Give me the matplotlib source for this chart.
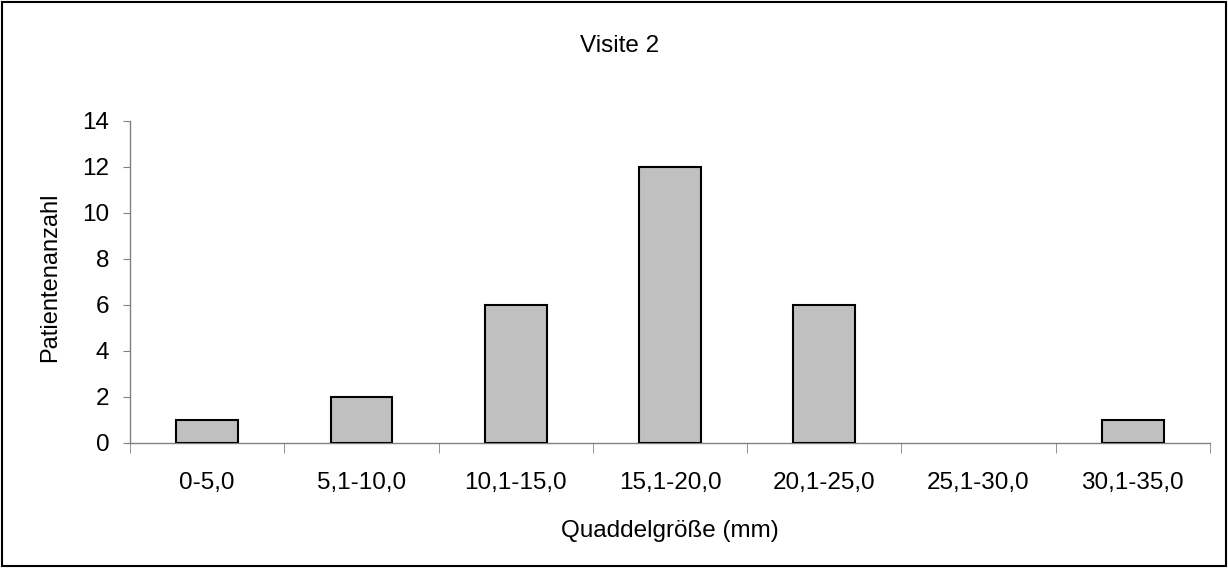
import matplotlib
matplotlib.use("Agg")
from matplotlib import pyplot as plt
from matplotlib.patches import Rectangle
import numpy as np

plt.rcParams['font.family'] = ['Liberation Sans', 'DejaVu Sans']

# data
categories = ["0-5,0", "5,1-10,0", "10,1-15,0", "15,1-20,0", "20,1-25,0", "25,1-30,0", "30,1-35,0"]
counts = [1, 2, 6, 12, 6, 0, 1]
y_ticks = [0, 2, 4, 6, 8, 10, 12, 14]

FS = 17.5

fig = plt.figure(figsize=(12.28, 5.68), dpi=100)
ax = fig.add_axes([0.1059, 0.2201, 0.8794, 0.5669])

x = np.arange(len(categories))
# skip the zero bar so no flat line is drawn on the axis
heights = [c if c > 0 else np.nan for c in counts]
ax.bar(x, heights, width=0.4, color="#C0C0C0", edgecolor="black", linewidth=1.5, zorder=3)

ax.set_xlim(-0.5, len(categories) - 0.5)
ax.set_ylim(0, 14)
ax.set_yticks(y_ticks)
ax.set_xticks(x)
ax.set_xticklabels(categories)
ax.set_xticks(np.arange(len(categories) + 1) - 0.5, minor=True)

for side in ["top", "right"]:
    ax.spines[side].set_visible(False)
for side in ["left", "bottom"]:
    ax.spines[side].set_color("#808080")
    ax.spines[side].set_linewidth(1.0)

ax.tick_params(axis="x", which="major", length=0, pad=21, labelsize=FS)
ax.tick_params(axis="x", which="minor", length=7, color="#808080", direction="out")
ax.tick_params(axis="y", length=5, color="#808080", pad=10, labelsize=FS)

fig.text(0.5045, 1 - 52 / 568, "Visite 2", ha="center", va="baseline", fontsize=FS)
fig.text(0.5 * (0.1059 + 0.9853), 1 - 537 / 568, "Quaddelgröße (mm)", ha="center", va="baseline", fontsize=FS)
fig.text(50 / 1228, 1 - 277 / 568, "Patientenanzahl", ha="center", va="center", rotation=90, fontsize=17)

# frame around the whole chart
fig.patches.append(Rectangle((0.002, 0.003), 0.996, 0.994, transform=fig.transFigure,
                             fill=False, edgecolor="black", linewidth=1.5))

fig.savefig("out.png", dpi=100)
